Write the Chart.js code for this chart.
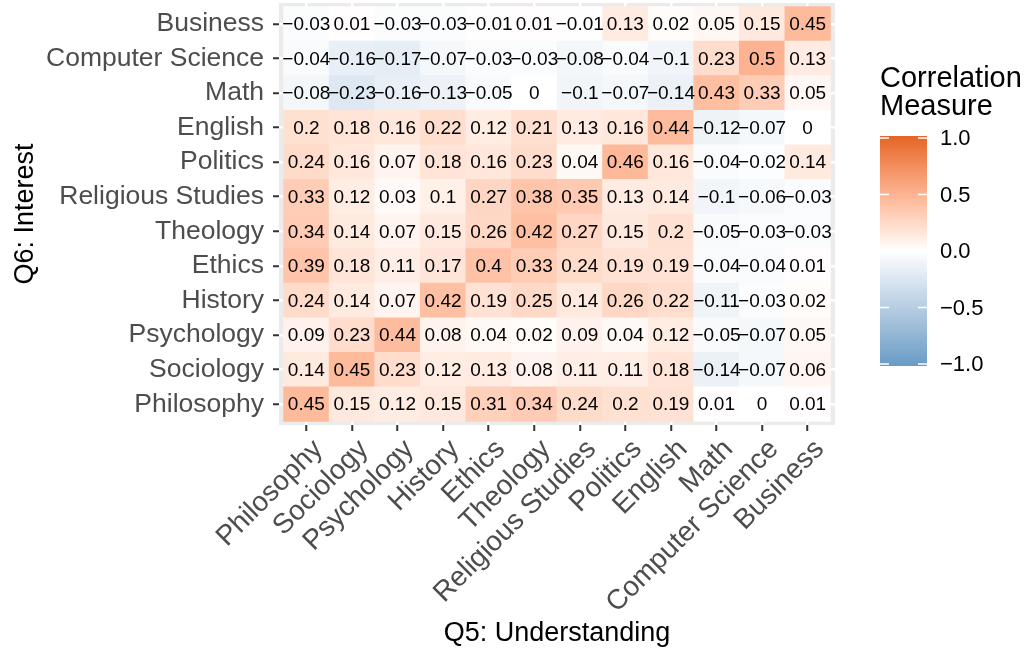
<!DOCTYPE html>
<html>
<head>
<meta charset="utf-8">
<script src="https://cdn.jsdelivr.net/npm/chart.js@4"></script>
<style>
  html, body { margin: 0; padding: 0; background: #fff; }
</style>
</head>
<body>
<canvas id="heatmap" width="1028" height="650"></canvas>
<script>
/* ===== DADOS ===== */
// colunas (Q5) da esquerda p/ direita
const understanding = ["Philosophy", "Sociology", "Psychology", "History", "Ethics", "Theology",
  "Religious Studies", "Politics", "English", "Math", "Computer Science", "Business"];
// linhas (Q6) de baixo p/ cima
const interest = ["Philosophy", "Sociology", "Psychology", "History", "Ethics", "Theology",
  "Religious Studies", "Politics", "English", "Math", "Computer Science", "Business"];

const corr_philosophy = [0.45, 0.15, 0.12, 0.15, 0.31, 0.34, 0.24, 0.2, 0.19, 0.01, 0, 0.01];
const corr_sociology = [0.14, 0.45, 0.23, 0.12, 0.13, 0.08, 0.11, 0.11, 0.18, -0.14, -0.07, 0.06];
const corr_psychology = [0.09, 0.23, 0.44, 0.08, 0.04, 0.02, 0.09, 0.04, 0.12, -0.05, -0.07, 0.05];
const corr_history = [0.24, 0.14, 0.07, 0.42, 0.19, 0.25, 0.14, 0.26, 0.22, -0.11, -0.03, 0.02];
const corr_ethics = [0.39, 0.18, 0.11, 0.17, 0.4, 0.33, 0.24, 0.19, 0.19, -0.04, -0.04, 0.01];
const corr_theology = [0.34, 0.14, 0.07, 0.15, 0.26, 0.42, 0.27, 0.15, 0.2, -0.05, -0.03, -0.03];
const corr_religious = [0.33, 0.12, 0.03, 0.1, 0.27, 0.38, 0.35, 0.13, 0.14, -0.1, -0.06, -0.03];
const corr_politics = [0.24, 0.16, 0.07, 0.18, 0.16, 0.23, 0.04, 0.46, 0.16, -0.04, -0.02, 0.14];
const corr_english = [0.2, 0.18, 0.16, 0.22, 0.12, 0.21, 0.13, 0.16, 0.44, -0.12, -0.07, 0];
const corr_math = [-0.08, -0.23, -0.16, -0.13, -0.05, 0, -0.1, -0.07, -0.14, 0.43, 0.33, 0.05];
const corr_cs = [-0.04, -0.16, -0.17, -0.07, -0.03, -0.03, -0.08, -0.04, -0.1, 0.23, 0.5, 0.13];
const corr_business = [-0.03, 0.01, -0.03, -0.03, -0.01, 0.01, -0.01, 0.13, 0.02, 0.05, 0.15, 0.45];

const linhas = [corr_philosophy, corr_sociology, corr_psychology, corr_history, corr_ethics, corr_theology,
  corr_religious, corr_politics, corr_english, corr_math, corr_cs, corr_business];

const legenda_breaks = [1, 0.5, 0, -0.5, -1];

/* ===== CORES (gradiente divergente em Lab) ===== */
const COR_BAIXA = [106, 157, 198];
const COR_MEIO = [255, 255, 255];
const COR_ALTA = [228, 103, 40];

function lin(c) { c /= 255; return c <= 0.04045 ? c / 12.92 : Math.pow((c + 0.055) / 1.055, 2.4); }
function rgb_to_lab(rgb) {
  const r = lin(rgb[0]), g = lin(rgb[1]), b = lin(rgb[2]);
  const x = (r * 0.4124 + g * 0.3576 + b * 0.1805) / 0.95047;
  const y = r * 0.2126 + g * 0.7152 + b * 0.0722;
  const z = (r * 0.0193 + g * 0.1192 + b * 0.9505) / 1.08883;
  const f = t => t > 0.008856 ? Math.cbrt(t) : 7.787 * t + 16 / 116;
  return [116 * f(y) - 16, 500 * (f(x) - f(y)), 200 * (f(y) - f(z))];
}
function lab_to_rgb(lab) {
  const fy = (lab[0] + 16) / 116, fx = fy + lab[1] / 500, fz = fy - lab[2] / 200;
  const inv = t => t * t * t > 0.008856 ? t * t * t : (t - 16 / 116) / 7.787;
  const x = inv(fx) * 0.95047, y = inv(fy), z = inv(fz) * 1.08883;
  const r = x * 3.2406 - y * 1.5372 - z * 0.4986;
  const g = -x * 0.9689 + y * 1.8758 + z * 0.0415;
  const b = x * 0.0557 - y * 0.2040 + z * 1.0570;
  const s = c => {
    c = c <= 0.0031308 ? 12.92 * c : 1.055 * Math.pow(c, 1 / 2.4) - 0.055;
    return Math.round(Math.max(0, Math.min(1, c)) * 255);
  };
  return [s(r), s(g), s(b)];
}
const LAB_BAIXA = rgb_to_lab(COR_BAIXA), LAB_MEIO = rgb_to_lab(COR_MEIO), LAB_ALTA = rgb_to_lab(COR_ALTA);

function cor_para(v) {
  const fim = v < 0 ? LAB_BAIXA : LAB_ALTA;
  const t = Math.min(1, Math.abs(v));
  const lab = [0, 1, 2].map(k => LAB_MEIO[k] + (fim[k] - LAB_MEIO[k]) * t);
  const c = lab_to_rgb(lab);
  return `rgb(${c[0]},${c[1]},${c[2]})`;
}

function formata(v) { return String(v).replace("-", "\u2212"); }

const FONTE = "'Liberation Sans', Arial, sans-serif";

/* ===== DATASETS: uma barra flutuante por celula ===== */
const datasets = linhas.map((valores, i) => ({
  label: interest[i],
  data: valores.map((v, j) => ({ x: j, y: [i - 0.5, i + 0.5], v: v })),
  backgroundColor: valores.map(cor_para),
  borderWidth: 0,
  grouped: false,
  barPercentage: 1,
  categoryPercentage: 1
}));

/* ===== PLUGINS ===== */
const fundo_painel = {
  id: "fundo_painel",
  beforeDraw(chart) {
    const { ctx, chartArea: a } = chart;
    ctx.save();
    ctx.fillStyle = "#EBEBEB";
    ctx.fillRect(a.left, a.top, a.right - a.left, a.bottom - a.top);
    ctx.restore();
  }
};

const textos_celulas = {
  id: "textos_celulas",
  afterDatasetsDraw(chart) {
    const ctx = chart.ctx;
    ctx.save();
    ctx.font = "19px " + FONTE;
    ctx.fillStyle = "#000";
    ctx.textAlign = "center";
    ctx.textBaseline = "middle";
    chart.data.datasets.forEach((ds, i) => {
      chart.getDatasetMeta(i).data.forEach((bar, j) => {
        const c = bar.getCenterPoint();
        ctx.fillText(formata(ds.data[j].v), c.x, c.y + 1);
      });
    });
    ctx.restore();
  }
};

const legenda_barra = {
  id: "legenda_barra",
  afterDraw(chart) {
    const ctx = chart.ctx;
    const x0 = 880, larg = 47, topo = 136, base = 366;
    const y_de = v => 251 - v * 113;
    ctx.save();
    ctx.fillStyle = "#000";
    ctx.font = "29px " + FONTE;
    ctx.textAlign = "left";
    ctx.textBaseline = "alphabetic";
    ctx.fillText("Correlation", 880, 87);
    ctx.fillText("Measure", 880, 115);

    for (let y = topo; y < base; y++) {
      const v = (251 - (y + 0.5)) / 113;
      ctx.fillStyle = cor_para(Math.max(-1, Math.min(1, v)));
      ctx.fillRect(x0, y, larg, 1);
    }
    ctx.strokeStyle = "#fff";
    ctx.lineWidth = 1.5;
    ctx.font = "22px " + FONTE;
    ctx.fillStyle = "#000";
    ctx.textBaseline = "middle";
    legenda_breaks.forEach(b => {
      const y = y_de(b);
      ctx.beginPath();
      ctx.moveTo(x0, y); ctx.lineTo(x0 + 9, y);
      ctx.moveTo(x0 + larg - 9, y); ctx.lineTo(x0 + larg, y);
      ctx.stroke();
      ctx.fillText(b === 0 ? "0.0" : formata(b.toFixed(1)), 940, y + 1);
    });
    ctx.restore();
  }
};

/* ===== GRAFICO ===== */
const idx = understanding.map((_, j) => j);

const chart_config = {
  type: "bar",
  data: { datasets: datasets },
  options: {
    responsive: false,
    animation: false,
    layout: { padding: { top: 3, right: 193, left: 0, bottom: 0 } },
    plugins: { legend: { display: false }, tooltip: { enabled: false } },
    scales: {
      x: {
        type: "linear",
        bounds: "data",
        offset: false,
        min: -0.6, max: 11.6,
        afterBuildTicks: s => { s.ticks = idx.map(v => ({ value: v })); },
        afterFit: s => { s.height = 225; s.paddingLeft = 0; s.paddingRight = 0; },
        grid: { offset: false, color: "#fff", lineWidth: 2.5, tickColor: "#333", tickWidth: 2, tickLength: 6 },
        border: { display: false },
        ticks: {
          autoSkip: false, minRotation: 45, maxRotation: 45, padding: 2, labelOffset: 12,
          color: "#4D4D4D", font: { family: FONTE, size: 28 },
          callback: v => understanding[v]
        },
        title: {
          display: true, text: "Q5: Understanding", color: "#000",
          font: { family: FONTE, size: 27 }, padding: { top: 4, bottom: 0 }
        }
      },
      y: {
        type: "linear",
        bounds: "data",
        min: -0.6, max: 11.6,
        afterBuildTicks: s => { s.ticks = idx.map(v => ({ value: v })); },
        afterFit: s => { s.width = 279; s.paddingTop = 0; s.paddingBottom = 0; },
        grid: { color: "#fff", lineWidth: 2.5, tickColor: "#333", tickWidth: 2, tickLength: 6 },
        border: { display: false },
        ticks: {
          autoSkip: false, padding: 9,
          color: "#4D4D4D", font: { family: FONTE, size: 26.5 },
          callback: v => interest[v]
        },
        title: {
          display: true, text: "Q6: Interest", color: "#000",
          font: { family: FONTE, size: 27 }, padding: { top: 9, bottom: 0 }
        }
      }
    }
  },
  plugins: [fundo_painel, textos_celulas, legenda_barra]
};

const chart1 = new Chart(document.getElementById("heatmap"), chart_config);
</script>
</body>
</html>
